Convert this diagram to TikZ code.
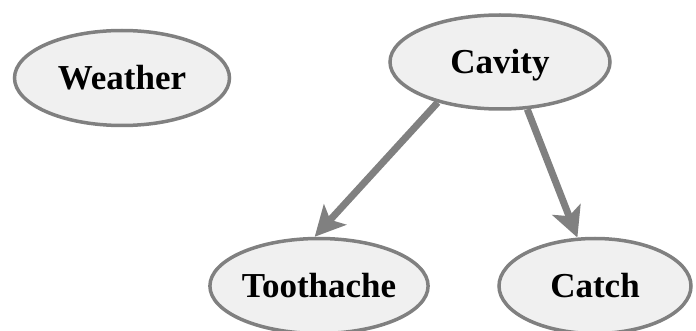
\documentclass[tikz,border=0pt]{standalone}
\usepackage{fontspec}
\setmainfont{Liberation Serif}
\usetikzlibrary{shapes.geometric,arrows.meta}
\definecolor{edgegrey}{RGB}{128,128,128}
\definecolor{fillgrey}{RGB}{240,240,240}
\begin{document}
\begin{tikzpicture}[x=1pt,y=-1pt,
  varnode/.style={ellipse,draw=edgegrey,line width=3.5pt,fill=fillgrey,inner sep=0pt,
    minimum height=95pt,text height=23pt,text depth=0pt,
    font=\fontsize{35}{40}\selectfont\bfseries},
  link/.style={draw=edgegrey,line width=7pt,-{Stealth[length=30pt,width=30pt,inset=7pt]}}]
\useasboundingbox (0,0) rectangle (696,331);
\node[varnode,minimum width=215pt] (weather) at (122,78) {Weather};
\node[varnode,minimum width=220pt,minimum height=94pt] (cavity) at (500,62) {Cavity};
\node[varnode,minimum width=214pt] (tooth) at (319,286) {Toothache};
\node[varnode,minimum width=192pt] (catch) at (595,286) {Catch};
\draw[link] (cavity.213) -- (tooth.95);
\draw[link] (cavity.300) -- (catch.110);
\end{tikzpicture}
\end{document}
